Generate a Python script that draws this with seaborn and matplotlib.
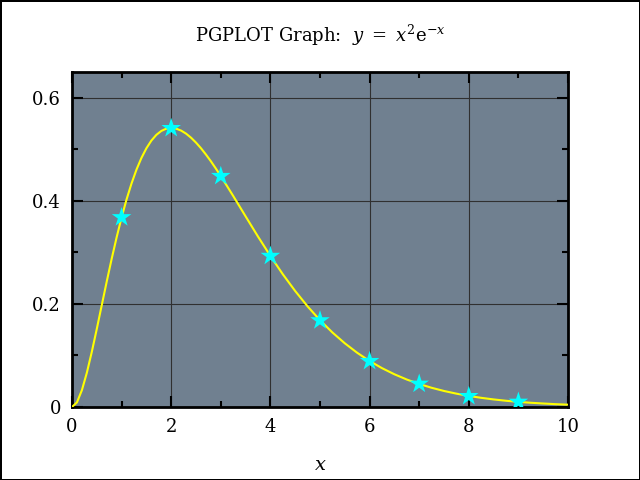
import matplotlib
matplotlib.use("Agg")
import matplotlib.pyplot as plt
import seaborn as sns
import pandas as pd
from matplotlib.ticker import MultipleLocator

# Curve (y = x^2 e^-x)
curve_x = [0.0, 0.1, 0.2, 0.3, 0.4, 0.5, 0.6, 0.7, 0.8, 0.9,
           1.0, 1.1, 1.2, 1.3, 1.4, 1.5, 1.6, 1.7, 1.8, 1.9,
           2.0, 2.1, 2.2, 2.3, 2.4, 2.5, 2.6, 2.7, 2.8, 2.9,
           3.0, 3.25, 3.5, 3.75, 4.0, 4.25, 4.5, 4.75, 5.0, 5.25, 5.5, 5.75,
           6.0, 6.25, 6.5, 6.75, 7.0, 7.25, 7.5, 7.75, 8.0, 8.25, 8.5, 8.75,
           9.0, 9.25, 9.5, 9.75, 10.0]
curve_y = [0.0, 0.0090, 0.0328, 0.0667, 0.1073, 0.1516, 0.1976, 0.2433, 0.2876, 0.3293,
           0.3679, 0.4028, 0.4337, 0.4606, 0.4833, 0.5020, 0.5169, 0.5280, 0.5356, 0.5400,
           0.5413, 0.5401, 0.5363, 0.5304, 0.5225, 0.5130, 0.5021, 0.4899, 0.4768, 0.4627,
           0.4481, 0.4095, 0.3699, 0.3307, 0.2931,
           0.2576, 0.2250, 0.1952, 0.1684, 0.1446, 0.1236, 0.1052, 0.0892,
           0.0754, 0.0635, 0.0533, 0.0447, 0.0373, 0.0311, 0.0259, 0.0215,
           0.0178, 0.0147, 0.0121, 0.0100, 0.0082, 0.0068, 0.0055, 0.0045]

# Star markers
star_x = [1, 2, 3, 4, 5, 6, 7, 8, 9]
star_y = [0.368, 0.541, 0.448, 0.293, 0.168, 0.089, 0.045, 0.021, 0.010]

sns.set_style("ticks")
plt.rcParams['font.family'] = ['DejaVu Serif']
plt.rcParams['mathtext.fontset'] = 'dejavuserif'
plt.rcParams['text.color'] = 'black'
plt.rcParams['axes.labelcolor'] = 'black'

fig = plt.figure(figsize=(6.4, 4.8), dpi=100)
fig.patch.set_facecolor("white")
fig.patch.set_edgecolor("black")
fig.patch.set_linewidth(2)

ax = fig.add_axes([72 / 640, 1 - 407 / 480, (568 - 72) / 640, (407 - 72) / 480])
ax.set_facecolor("#708090")

df_curve = pd.DataFrame({"x": curve_x, "y": curve_y})
df_star = pd.DataFrame({"x": star_x, "y": star_y})

sns.lineplot(data=df_curve, x="x", y="y", ax=ax, color="yellow", linewidth=1.5, zorder=3)
sns.scatterplot(data=df_star, x="x", y="y", ax=ax, color="cyan", marker="*", s=220,
                edgecolor="none", zorder=4)

ax.set_xlim(0, 10)
ax.set_ylim(0, 0.65)
ax.xaxis.set_minor_locator(MultipleLocator(1))
ax.yaxis.set_minor_locator(MultipleLocator(0.1))
ax.set_yticks([0, 0.2, 0.4, 0.6])
ax.set_yticklabels(["0", "0.2", "0.4", "0.6"])
ax.set_xticks([0, 2, 4, 6, 8, 10])
ax.set_xticklabels(["0", "2", "4", "6", "8", "10"])

ax.grid(True, which="major", color="#303030", linewidth=0.8)
ax.set_axisbelow(True)
ax.tick_params(which="both", direction="in", top=True, right=True, colors="black",
               labelcolor="black", labelsize=13, width=1.5)
ax.tick_params(which="major", length=8, pad=8)
ax.tick_params(which="minor", length=4)
for s in ax.spines.values():
    s.set_linewidth(2)
    s.set_color("black")
    s.set_visible(True)

ax.set_xlabel("$x$", fontsize=14, labelpad=14, color="black")
ax.set_ylabel("")
ax.set_title("PGPLOT Graph:  $y\\ =\\ x^2\\mathrm{e}^{-x}$", fontsize=13, pad=22,
             color="black")

fig.savefig("out.png", dpi=100, facecolor="white", edgecolor="black")
